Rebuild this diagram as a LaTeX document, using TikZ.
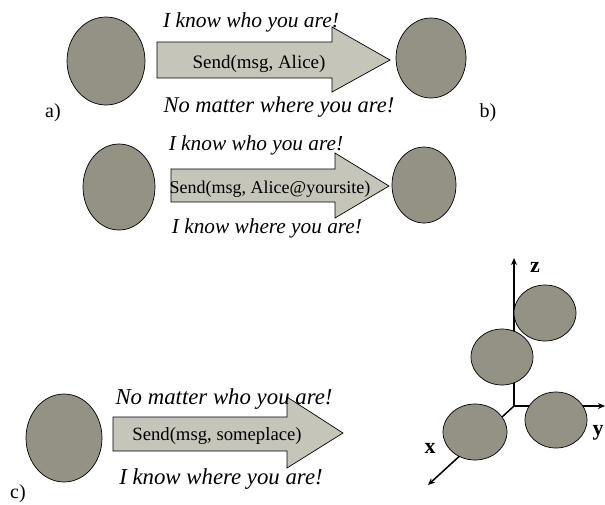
\documentclass[tikz,border=0pt]{standalone}
\usepackage{fontspec}
\setmainfont{Liberation Serif}
\usetikzlibrary{arrows.meta, shapes.geometric, positioning}
\definecolor{StoneGray}{RGB}{148,146,132}
\definecolor{PaleSage}{RGB}{197,197,185}

\begin{document}
\begin{tikzpicture}[
  x=1pt, y=-1pt,
  ball/.style={
    ellipse,
    draw=black,
    fill=StoneGray,
    line width=0.7pt,
    inner sep=0pt
  },
  block/.style={draw=black, fill=PaleSage, line width=0.7pt},
  motto/.style={font=\fontsize{#1}{#1}\selectfont\itshape, inner sep=0pt, anchor=base},
  motto/.default=22,
  call/.style={font=\fontsize{#1}{#1}\selectfont, inner sep=0pt, anchor=base},
  call/.default=19,
  tag/.style={font=\fontsize{20}{20}\selectfont, inner sep=0pt, anchor=base},
  axis/.style={-{Stealth[length=7pt, width=6pt]}, line width=1.5pt},
  axlabel/.style={font=\fontsize{22}{22}\selectfont\bfseries, inner sep=0pt, anchor=base}
]
\useasboundingbox (0,0) rectangle (605,504);

% a) and b)
\node[ball, minimum width=78pt, minimum height=88pt] (A1) at (106,61) {};
\node[ball, minimum width=70pt, minimum height=80pt] (B1) at (431,58) {};
\draw[block] (157,42) -- (332,42) -- (332,27) -- (390,60)
  -- (332,92) -- (332,78) -- (157,78) -- cycle;
\node[call] (send1) at (259,68) {Send(msg, Alice)};
\node[motto=21.5] (who1) at (251,27) {I know who you are!};
\node[motto=22.5] (where1) at (279,112) {No matter where you are!};
\node[tag] (taga) at (53,117) {a)};
\node[tag] (tagb) at (488,117) {b)};

% second row
\node[ball, minimum width=72pt, minimum height=86pt] (A2) at (119,187) {};
\node[ball, minimum width=64pt, minimum height=76pt] (B2) at (424,185) {};
\draw[block] (171,169) -- (335,169) -- (335,153) -- (389,186)
  -- (335,218) -- (335,202) -- (171,202) -- cycle;
\node[call=18] (send2) at (270,193) {Send(msg, Alice@yoursite)};
\node[motto=21.3] (who2) at (256,150) {I know who you are!};
\node[motto=21.3] (where2) at (267,233) {I know where you are!};

% c)
\node[ball, minimum width=76pt, minimum height=88pt] (A3) at (64,438) {};
\draw[block] (113,417) -- (287,417) -- (287,397) -- (343,433)
  -- (287,468) -- (287,451) -- (113,451) -- cycle;
\node[call=18.7] (send3) at (217,440) {Send(msg, someplace)};
\node[motto=22.8] (who3) at (224,404) {No matter who you are!};
\node[motto=22.8] (where3) at (221,484) {I know where you are!};
\node[tag] (tagc) at (18,498) {c)};

% axes
\coordinate (O) at (514,406);
\coordinate (zend) at (514,258);
\coordinate (yend) at (605,406);
\coordinate (xend) at (428,485);
\draw[axis] (O) -- (zend);
\draw[axis] (O) -- (yend);
\draw[axis] (O) -- (xend);
\node[axlabel] (zlab) at (535,272) {z};
\node[axlabel] (ylab) at (598,435) {y};
\node[axlabel] (xlab) at (430,453) {x};

\node[ball, minimum width=62pt, minimum height=56pt] (C1) at (545,313) {};
\node[ball, minimum width=62pt, minimum height=56pt] (C2) at (502,357) {};
\node[ball, minimum width=62pt, minimum height=56pt] (C3) at (556,420) {};
\node[ball, minimum width=64pt, minimum height=56pt] (C4) at (475,432) {};

\end{tikzpicture}
\end{document}
